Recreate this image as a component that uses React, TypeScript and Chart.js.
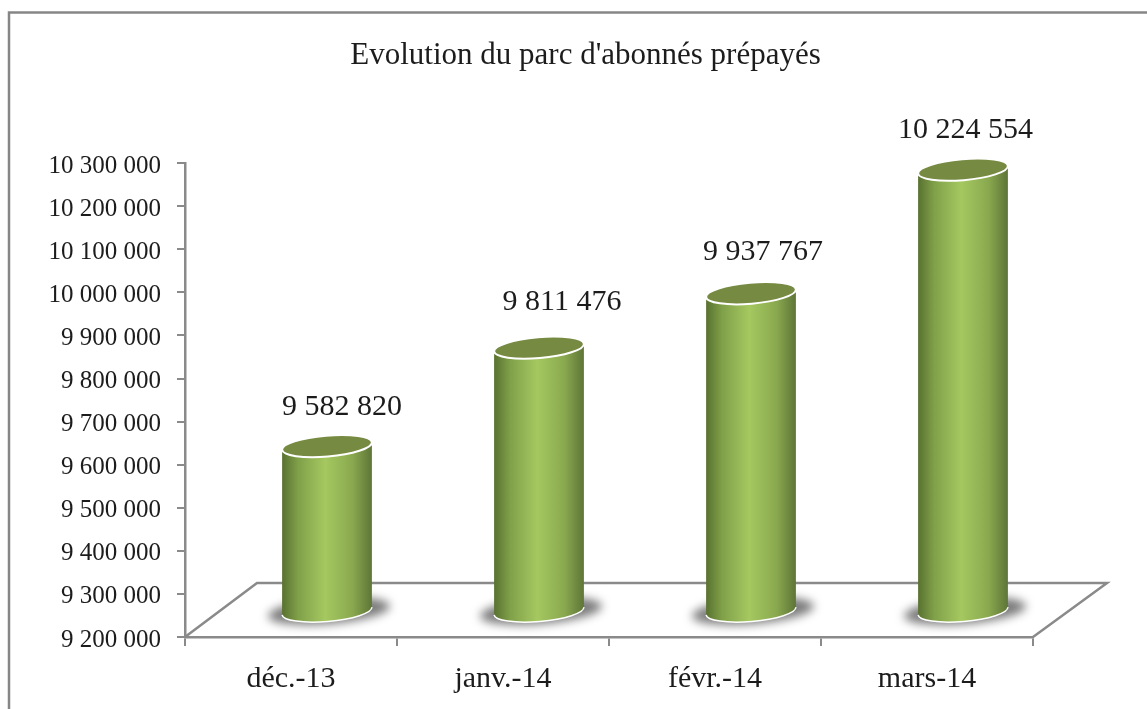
import React, { useEffect, useRef } from "react";
import { Chart, registerables } from "chart.js";

Chart.register(...registerables);

const categories = ["déc.-13", "janv.-14", "févr.-14", "mars-14"];
const subscribers = [9582820, 9811476, 9937767, 10224554];
const titleText = "Evolution du parc d'abonnés prépayés";
const axisMin = 9200000;
const axisMax = 10300000;
const axisStep = 100000;
// hand-placed label offsets in the original, relative to the bar's top
const labelNudgeX = [51, 59, 48, 38.5];
const labelNudgeY = [-65, -71, -67, -66];

const SERIF = '"Liberation Serif", serif';
const INK = "#1c1c1c";
const LINE = "#8a8a8a";
const DEPTH_X = 72;
const DEPTH_Y = 54;
const SHIFT_X = 36;
const SHIFT_Y = -26;
const TILT = -0.085;

const fmt = (v: number) => Math.round(v).toString().replace(/\B(?=(\d{3})+$)/g, " ");

const scene = {
  id: "scene",
  afterLayout(chart: any) {
    // the title sits over the whole frame, not over the plot area
    if (chart.titleBlock) {
      chart.titleBlock.left = 24;
      chart.titleBlock.right = 1147;
    }
  },
  beforeDraw(chart: any) {
    const { ctx } = chart;
    ctx.save();
    ctx.strokeStyle = "#868686";
    ctx.lineWidth = 2.5;
    ctx.beginPath();
    ctx.moveTo(9, 720);
    ctx.lineTo(9, 12.5);
    ctx.lineTo(1150, 12.5);
    ctx.stroke();
    ctx.restore();
  },
  beforeDatasetsDraw(chart: any) {
    const { ctx, chartArea: a } = chart;
    ctx.save();
    ctx.strokeStyle = LINE;
    ctx.lineWidth = 2.5;
    ctx.beginPath();
    ctx.moveTo(a.left, a.bottom);
    ctx.lineTo(a.left + DEPTH_X, a.bottom - DEPTH_Y);
    ctx.lineTo(a.right + DEPTH_X + 2, a.bottom - DEPTH_Y);
    ctx.lineTo(a.right, a.bottom);
    ctx.stroke();
    ctx.restore();
  },
  afterDatasetsDraw(chart: any) {
    const { ctx } = chart;
    const meta = chart.getDatasetMeta(0);
    const basePx = chart.scales.y.getPixelForValue(axisMin);
    meta.data.forEach((el: any, i: number) => {
      const p = el.getProps(["x", "y", "width"], true);
      const cx = p.x + SHIFT_X;
      const top = p.y + SHIFT_Y;
      const bottom = basePx + SHIFT_Y;
      const ra = p.width / 2;
      const rb = 10.5;

      ctx.save();
      ctx.filter = "blur(5px)";
      ctx.fillStyle = "rgba(90,90,90,0.8)";
      ctx.beginPath();
      ctx.ellipse(cx + 2, bottom, ra + 16, 13, TILT, 0, Math.PI * 2);
      ctx.fill();
      ctx.restore();

      const g = ctx.createLinearGradient(cx - ra, 0, cx + ra, 0);
      g.addColorStop(0, "#587130");
      g.addColorStop(0.18, "#80a049");
      g.addColorStop(0.48, "#a5c860");
      g.addColorStop(0.78, "#8aa94f");
      g.addColorStop(1, "#5e7537");

      ctx.save();
      ctx.beginPath();
      ctx.ellipse(cx, bottom, ra, rb, TILT, 0, Math.PI, false);
      ctx.ellipse(cx, top, ra, rb, TILT, Math.PI, Math.PI * 2, false);
      ctx.closePath();
      ctx.fillStyle = g;
      ctx.fill();

      ctx.strokeStyle = "#ffffff";
      ctx.lineWidth = 1.5;
      ctx.beginPath();
      ctx.ellipse(cx, bottom, ra, rb, TILT, 0, Math.PI, false);
      ctx.stroke();

      ctx.lineWidth = 2;
      ctx.beginPath();
      ctx.ellipse(cx, top, ra, rb, TILT, 0, Math.PI * 2);
      ctx.fillStyle = "#768a41";
      ctx.fill();
      ctx.stroke();
      ctx.restore();

      ctx.save();
      ctx.font = `30px ${SERIF}`;
      ctx.fillStyle = INK;
      ctx.textAlign = "center";
      ctx.textBaseline = "middle";
      ctx.fillText(fmt(subscribers[i]), p.x + labelNudgeX[i], p.y + labelNudgeY[i]);
      ctx.restore();
    });
  },
};

export default function App() {
  const ref = useRef<HTMLCanvasElement | null>(null);
  useEffect(() => {
    const chart = new Chart(ref.current as HTMLCanvasElement, {
      type: "bar",
      data: {
        labels: categories,
        datasets: [
          {
            label: "Parc d'abonnés prépayés",
            data: subscribers,
            backgroundColor: "rgba(0,0,0,0)",
            borderWidth: 0,
            barPercentage: 0.425,
            categoryPercentage: 1,
          },
        ],
      },
      options: {
        responsive: false,
        animation: false,
        layout: { padding: { left: 0, right: 114, top: 0, bottom: 0 } },
        plugins: {
          legend: { display: false },
          tooltip: { enabled: false },
          title: {
            display: true,
            text: titleText,
            color: INK,
            font: { family: SERIF, size: 31, weight: "normal", lineHeight: 1.2 },
            padding: { top: 37, bottom: 89 },
          },
        },
        scales: {
          x: {
            afterFit: (s: any) => {
              s.height = 72;
            },
            border: { color: LINE, width: 2.5 },
            grid: { color: LINE, lineWidth: 2, drawOnChartArea: false, drawTicks: true, tickLength: 9 },
            ticks: { color: INK, font: { family: SERIF, size: 30 }, padding: 15, maxRotation: 0 },
          },
          y: {
            min: axisMin,
            max: axisMax,
            afterFit: (s: any) => {
              s.width = 185;
            },
            border: { color: LINE, width: 2.5 },
            grid: { color: LINE, lineWidth: 2, drawOnChartArea: false, drawTicks: true, tickLength: 8 },
            ticks: {
              color: INK,
              font: { family: SERIF, size: 25 },
              padding: 16,
              labelOffset: 3,
              stepSize: axisStep,
              autoSkip: false,
              callback: (v: any) => fmt(Number(v)),
            },
          },
        },
      },
      plugins: [scene],
    } as any);
    return () => chart.destroy();
  }, []);
  return (
    <div style={{ position: "fixed", left: 0, top: 0, width: 1147, height: 709, overflow: "hidden", background: "#fff" }}>
      <canvas ref={ref} width={1147} height={709} style={{ display: "block" }} />
    </div>
  );
}
